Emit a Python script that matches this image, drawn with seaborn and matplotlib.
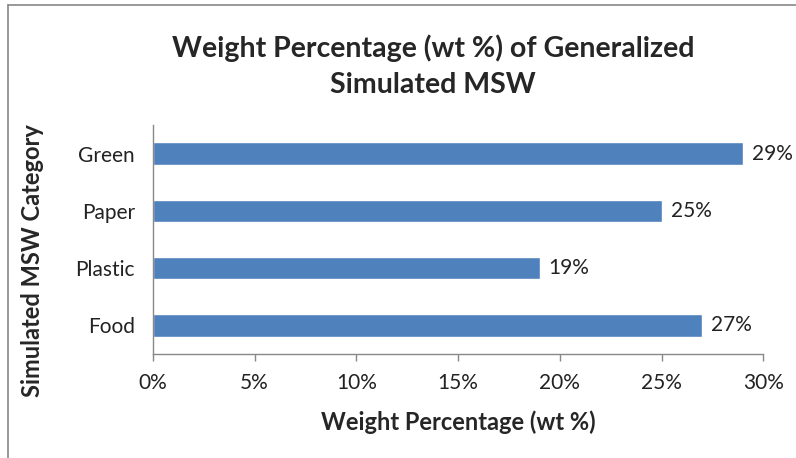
import matplotlib
matplotlib.use("Agg")
import matplotlib.pyplot as plt
import seaborn as sns
import pandas as pd
from matplotlib.lines import Line2D
from matplotlib.ticker import PercentFormatter

# data
categories = ["Green", "Paper", "Plastic", "Food"]
weight_pct = [29, 25, 19, 27]
x_ticks = [0, 5, 10, 15, 20, 25, 30]

df = pd.DataFrame({"Category": categories, "Weight": weight_pct})

sns.set_style("white")
plt.rcParams["font.family"] = ["Lato", "DejaVu Sans"]

fig = plt.figure(figsize=(7.96, 4.58), dpi=100)
ax = fig.add_axes([0.192, 0.227, 0.767, 0.5])

sns.barplot(data=df, x="Weight", y="Category", orient="h", color="#4F81BD",
            saturation=1, width=0.39, ax=ax)

ax.set_xlim(0, 30)
ax.set_xticks(x_ticks)
ax.xaxis.set_major_formatter(PercentFormatter(decimals=0))
ax.tick_params(axis="x", length=5, width=1, color="#888888", direction="out",
               labelsize=15, labelcolor="#222222", pad=9, bottom=True)
ax.tick_params(axis="y", length=0, labelsize=15, labelcolor="#222222", pad=13)

for side in ["top", "right"]:
    ax.spines[side].set_visible(False)
for side in ["left", "bottom"]:
    ax.spines[side].set_color("#888888")
    ax.spines[side].set_linewidth(1)

# value labels
for i, v in enumerate(weight_pct):
    ax.text(v + 0.45, i, f"{v}%", va="center", ha="left", fontsize=15, color="#222222")

ax.set_xlabel("Weight Percentage (wt %)", fontsize=17, fontweight="bold", labelpad=12)
ax.set_ylabel("Simulated MSW Category", fontsize=17, fontweight="bold")
ax.yaxis.set_label_coords(-0.178, 0.41)

fig.text(0.544, 0.855, "Weight Percentage (wt %) of Generalized\nSimulated MSW",
         ha="center", va="center", fontsize=20.5, fontweight="bold",
         linespacing=1.5)

# outer chart border (only left and top visible in the crop)
fig.add_artist(Line2D([8 / 796, 8 / 796], [0, 1 - 5 / 458], transform=fig.transFigure,
                      color="#888888", lw=1.2))
fig.add_artist(Line2D([8 / 796, 1], [1 - 5 / 458, 1 - 5 / 458], transform=fig.transFigure,
                      color="#888888", lw=1.2))

fig.savefig("out.png", dpi=100)
